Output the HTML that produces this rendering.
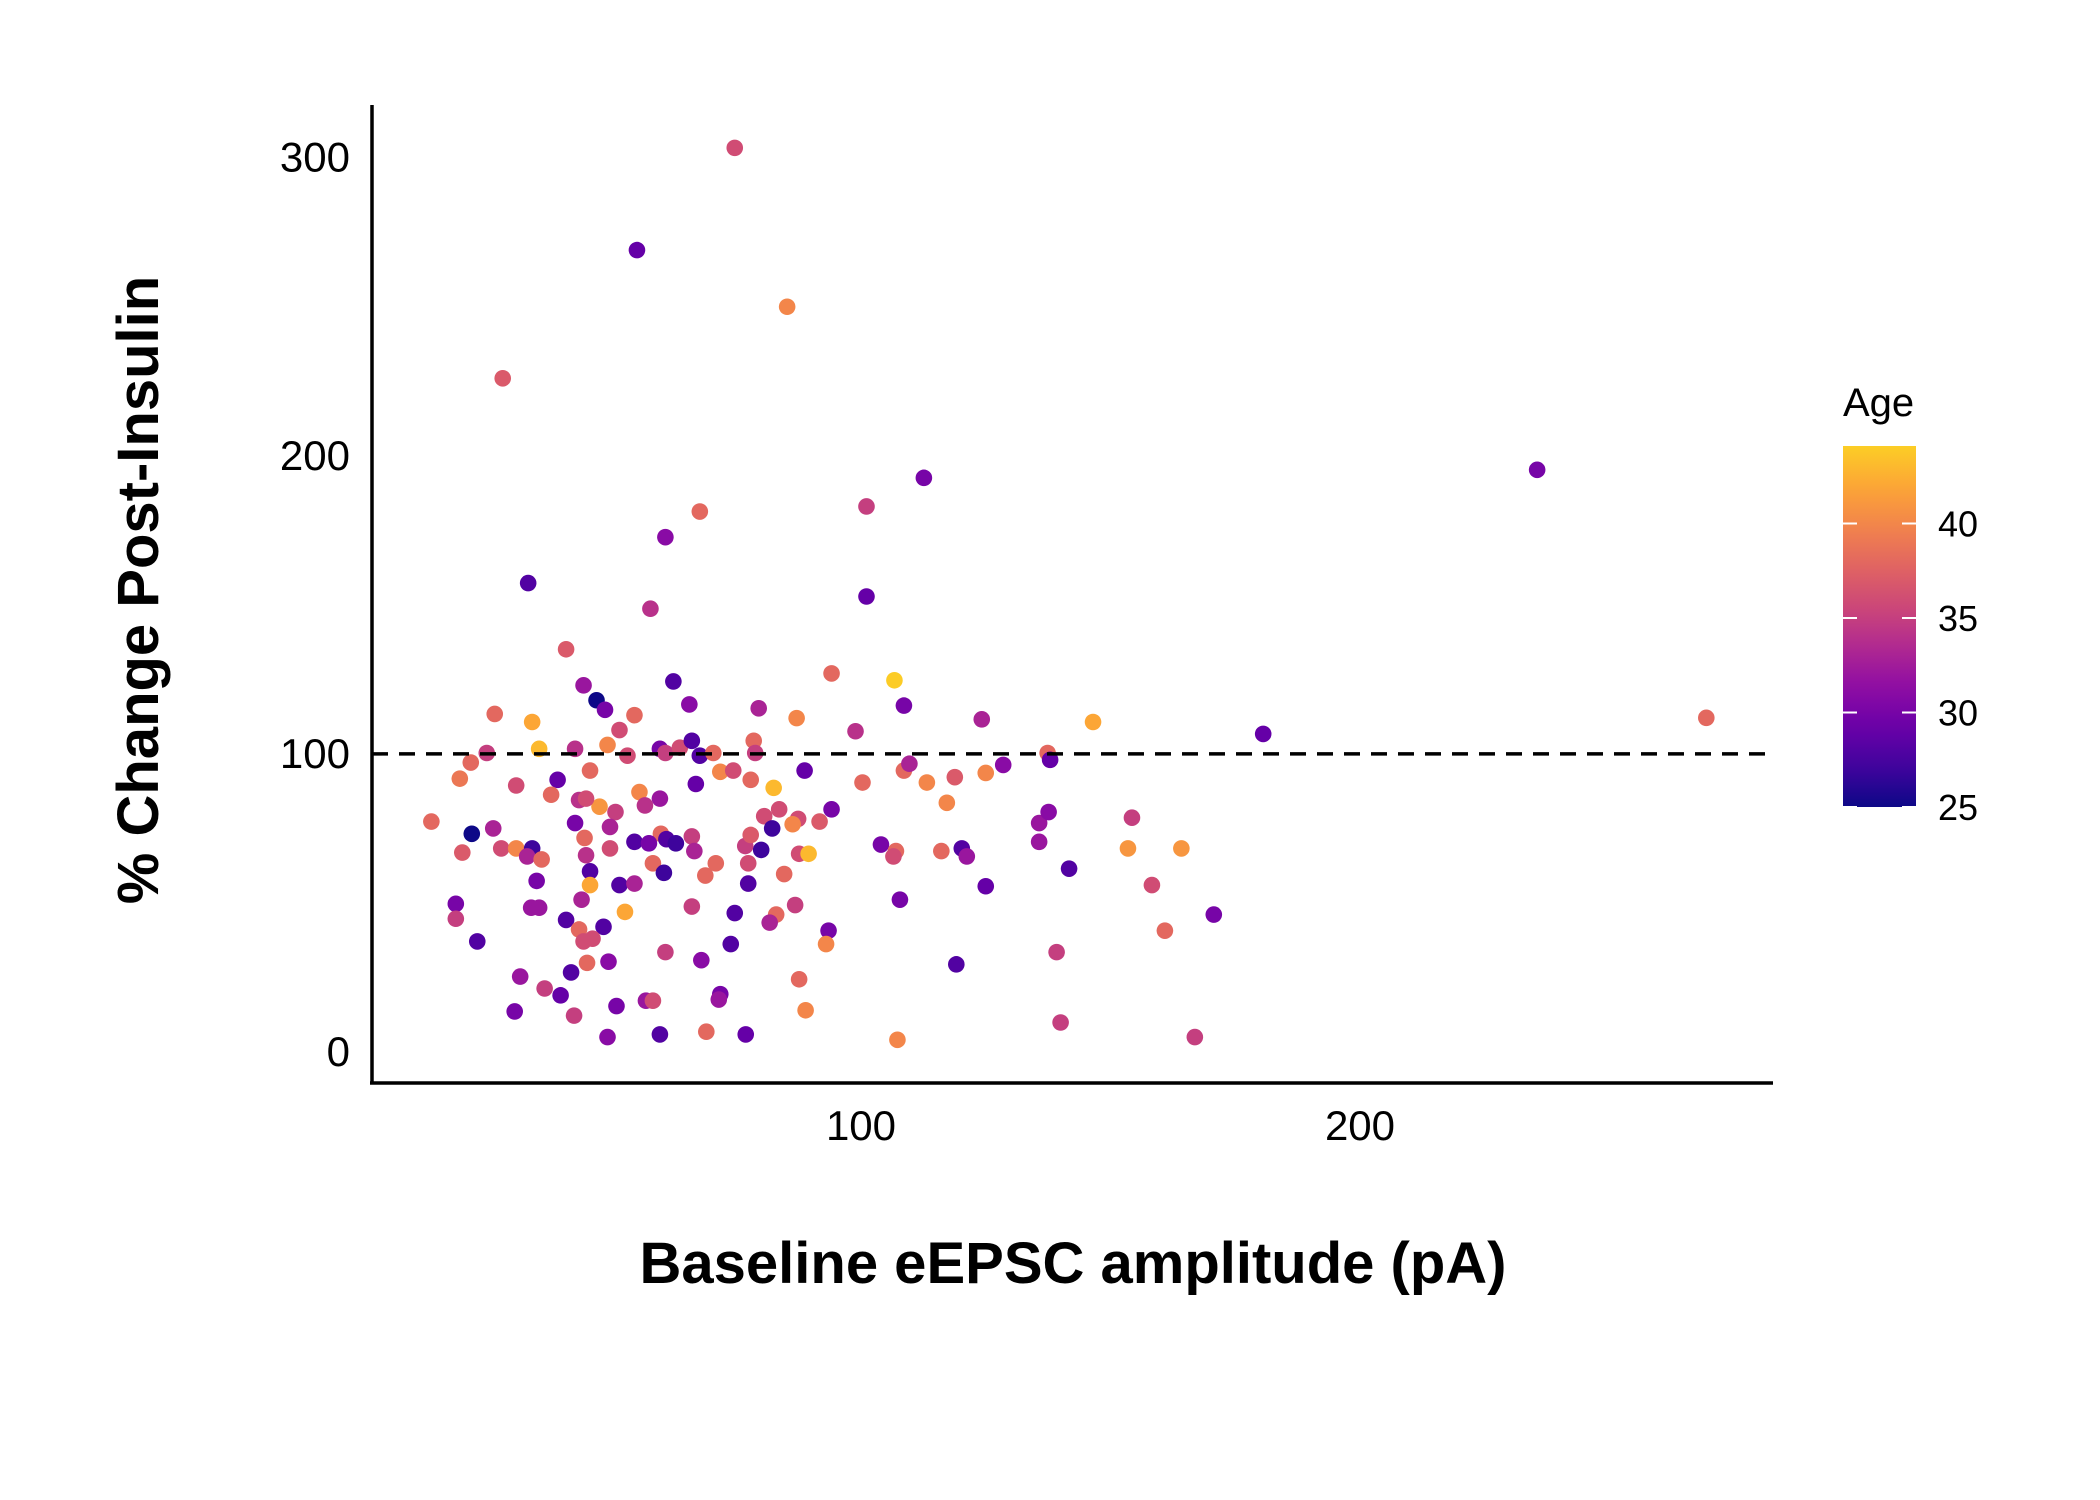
<!DOCTYPE html>
<html><head><meta charset="utf-8"><style>
html,body{margin:0;padding:0;background:#fff;}
svg{display:block;font-family:"Liberation Sans","DejaVu Sans",sans-serif;}
</style></head><body>
<svg id="chart" width="2100" height="1500" viewBox="0 0 2100 1500">
<defs><linearGradient id="plasma" x1="0" y1="1" x2="0" y2="0"></linearGradient></defs>
<g id="grid"></g>
</svg>
<script>
const xs=[74.7,55.1,85.2,28.2,112.6,235.5,67.7,101.1,60.8,33.3,101.1,57.8,40.9,94.1,62.4,106.7,44.4,47,48.7,65.6,79.5,108.6,26.6,34.1,54.6,87.1,124.2,146.5,51.6,98.9,180.6,269.4,25,35.5,42.7,49.2,53.2,59.7,60.8,63.7,66.1,67.7,70.4,78.5,78.8,137.4,137.9,21.8,19.6,30.9,39.2,45.7,66.9,71.8,74.4,77.9,82.5,88.7,100.3,108.6,109.7,113.2,118.8,125,128.5,37.9,55.6,59.7,47.6,43.5,44.9,56.7,50.8,117.2,94.1,80.6,83.6,87.4,91.7,86.3,13.9,42.7,49.7,26.3,22,82.2,135.7,137.6,154.3,44.6,54.6,59.9,57.5,61,62.9,66.1,76.8,77.9,80,104,135.7,20.1,27.9,30.9,34.1,33.1,36,44.9,49.7,58.3,66.6,70.9,77.4,87.6,89.5,107,106.5,116.1,120.2,121.2,153.5,164.2,45.7,60.5,68.8,84.6,141.7,35,45.7,51.6,54.6,77.4,125,158.3,18.8,33.9,35.5,44,66.1,86.8,107.8,52.7,74.7,83,170.7,18.8,40.9,48.4,81.7,43.5,93.5,160.9,23.1,44.4,46.2,73.9,93,60.8,139.2,68,49.4,45.1,119.1,41.9,31.7,87.6,36.6,39.8,71.8,71.5,56.9,58.3,51,30.6,88.9,42.5,140,69,76.9,59.7,49.2,107.3,166.9];
const ys=[303.3,269,250,226,192.6,195.3,181.3,183,172.7,157.3,152.8,148.7,135.1,127,124.3,124.7,123,118,114.8,116.6,115.3,116.2,113.4,110.7,113,112,111.6,110.7,108,107.6,106.7,112.1,100.3,101.7,101.7,103,99.4,101.7,100.3,102.1,104.4,99.4,100.3,104.4,100.3,100.3,98,97.1,91.7,89.4,91.3,94.4,89.9,94,94.4,91.3,88.6,94.4,90.4,94.4,96.7,90.4,92.2,93.6,96.3,86.3,87.2,85,82.3,84.5,85,82.7,80.5,83.6,81.4,79.1,81.4,78.2,77.3,76.4,77.3,76.8,75.5,75,73.2,75,76.8,80.5,78.6,71.8,70.5,73.2,70,71.4,70,72.3,69.1,72.8,67.8,69.6,70.5,66.9,68.3,68.3,68.3,65.6,64.6,66,68.3,63.3,67.4,63.3,63.3,66.5,66.5,67.4,65.6,67.4,68.3,65.6,68.3,68.3,60.6,60.1,59.2,59.7,61.5,57.4,56,56,56.5,56.5,55.6,56,49.7,48.4,48.4,51.1,48.8,49.3,51.1,47,46.6,46.1,46.1,44.7,44.3,42,43.4,41.1,40.7,40.7,37.1,37.1,38,36.2,36.2,33.5,33.5,30.8,30.3,29.9,29.4,26.7,25.3,24.4,21.3,19,19.4,17.6,17.2,17.2,15.4,13.6,14,12.2,9.9,6.8,5.9,5.9,5,4.1,5];
const ages=[36,29,40,37,30,30,38,35,31,28,29,34,37,38,28,44,32,25,30,31,33,30,38,42,38,40,33,42,36,34,29,38,35,43,34,40,36,30,35,36,28,28,38,38,35,38,29,38,39,36,29,38,29,40,36,38,43,29,38,38,33,40,37,40,31,38,40,32,41,34,36,34,35,40,30,36,36,36,37,40,38,30,33,33,25,27,32,31,35,38,28,38,30,28,27,35,35,37,27,30,32,37,36,40,27,33,38,34,36,38,33,38,36,36,43,38,36,38,28,32,41,41,28,27,38,38,28,30,42,28,33,28,29,36,30,32,32,33,35,35,30,42,28,38,30,35,28,28,33,38,30,38,28,36,36,28,40,35,35,31,31,38,28,28,32,38,35,29,30,32,32,36,30,30,40,35,35,38,29,28,31,40];
const xTicks=[100,200];
const yTicks=[0,100,200,300];
const ageTicks=[25,30,35,40];
const refLine=[100];

const NS="http://www.w3.org/2000/svg";
const svg=document.getElementById('chart');
const g=document.getElementById('grid');
const X=v=>362+v*4.99, Y=v=>1052-v*2.981;
const AMIN=25, AMAX=44.1;
const stops=["#0d0887","#41049d","#6a00a8","#8f0da4","#b12a90","#cc4778","#e16462","#f2844b","#fca636","#fcce25","#f0f921"];
function hx(c){return [1,3,5].map(i=>parseInt(c.substr(i,2),16));}
function plasma(t){if(!isFinite(t))t=0;t=Math.max(0,Math.min(1,t))*10;const i=Math.min(9,Math.floor(t)),f=t-i;const a=hx(stops[i]),b=hx(stops[i+1]);return "rgb("+a.map((v,k)=>Math.round(v+(b[k]-v)*f)).join(",")+")";}
const ageT=a=>(a-AMIN)/(AMAX-AMIN)*0.9;
function el(tag,attrs,parent){const e=document.createElementNS(NS,tag);for(const k in attrs)e.setAttribute(k,attrs[k]);(parent||svg).appendChild(e);return e;}

let e=el('line',{x1:372,y1:105,x2:372,y2:1084,stroke:'#000','stroke-width':3.5});


e=el('line',{x1:370,y1:1083,x2:1773,y2:1083,stroke:'#000','stroke-width':3.5});


yTicks.forEach(v=>{const t=el('text',{x:350,y:Y(v)+14,'text-anchor':'end','font-size':42,fill:'#000'});t.textContent=v;

});
xTicks.forEach(v=>{const t=el('text',{x:X(v),y:1140,'text-anchor':'middle','font-size':42,fill:'#000'});t.textContent=v;

});
refLine.forEach(v=>{const l=el('line',{x1:372,y1:Y(v),x2:1773,y2:Y(v),stroke:'#000','stroke-width':3.5,'stroke-dasharray':'16 11'});

});
xs.forEach((x,i)=>{const a=(ages[i]===undefined)?35:ages[i];const c=el('circle',{cx:X(x),cy:Y(ys[i]),r:8.3,fill:plasma(ageT(a))},g);

});
e=el('text',{x:1073,y:1283,'text-anchor':'middle','font-size':58,'font-weight':'bold',fill:'#000'});e.textContent='Baseline eEPSC amplitude (pA)';


e=el('text',{x:0,y:0,'text-anchor':'middle','font-size':58,'font-weight':'bold',fill:'#000',transform:'translate(158,590) rotate(-90)'});e.textContent='% Change Post-Insulin';


const grad=document.getElementById('plasma');
for(let k=0;k<=20;k++){el('stop',{offset:(k/20),'stop-color':plasma(k/20*0.9)},grad);}
const cbTop=446,cbBot=807,cbY=a=>cbBot-(a-AMIN)/(AMAX-AMIN)*(cbBot-cbTop);
e=el('rect',{x:1843,y:cbTop,width:73,height:cbBot-cbTop,fill:'url(#plasma)'});


ageTicks.forEach(a=>{
 const yy=cbY(a);
 el('line',{x1:1843,y1:yy,x2:1857,y2:yy,stroke:'#fff','stroke-width':2});
 el('line',{x1:1902,y1:yy,x2:1916,y2:yy,stroke:'#fff','stroke-width':2});
 const t=el('text',{x:1938,y:yy+13,'font-size':36,fill:'#000'});t.textContent=a;
 
 
});
e=el('text',{x:1843,y:416,'font-size':40,fill:'#000'});e.textContent='Age';


</script>
</body></html>
